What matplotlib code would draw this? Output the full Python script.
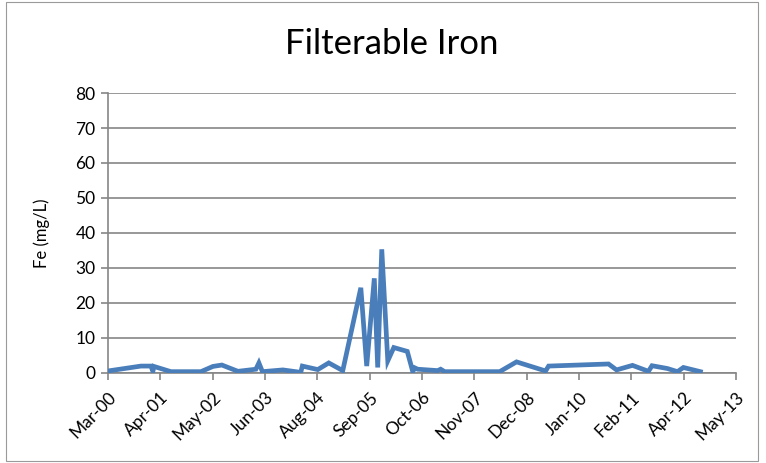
import matplotlib
matplotlib.use("Agg")
import matplotlib.pyplot as plt
import matplotlib.dates as mdates
import pandas as pd
from matplotlib.patches import Rectangle

# sample dates and filterable iron results (mg/L)
dates = [
    "2000-03-16", "2000-11-23", "2001-02-07", "2001-02-22", "2001-03-02",
    "2001-07-10", "2002-02-24", "2002-05-27", "2002-08-03", "2002-12-04",
    "2003-04-20", "2003-05-13", "2003-06-09", "2003-11-12", "2004-03-28",
    "2004-04-09", "2004-08-05", "2004-10-28", "2005-02-12", "2005-06-30",
    "2005-08-14", "2005-10-11", "2005-11-06", "2005-12-07", "2006-01-22",
    "2006-03-09", "2006-06-20", "2006-08-01", "2006-08-16", "2006-09-08",
    "2007-02-07", "2007-03-02", "2007-04-02", "2008-05-26", "2008-10-02",
    "2009-05-12", "2009-06-04", "2010-09-05", "2010-11-05", "2011-03-07",
    "2011-07-07", "2011-08-03", "2011-11-29", "2012-02-14", "2012-03-30",
    "2012-08-07",
]
fe = [
    0.5, 1.9, 1.9, 0.4, 1.8,
    0.3, 0.3, 1.8, 2.2, 0.4,
    1.0, 2.8, 0.3, 0.8, 0.1,
    1.9, 0.9, 2.8, 0.6, 24.3,
    1.9, 27.0, 1.5, 35.3, 3.4,
    7.2, 6.1, 0.3, 1.4, 1.0,
    0.6, 1.0, 0.3, 0.3, 3.1,
    0.5, 1.9, 2.5, 0.8, 2.1,
    0.4, 2.0, 1.2, 0.3, 1.5,
    0.3,
]
y_ticks = list(range(0, 81, 10))

font = "Lato"
grey = "#868686"

df = pd.DataFrame({"date": pd.to_datetime(dates), "fe": fe})

fig = plt.figure(figsize=(7.66, 4.63), dpi=100)
ax = fig.add_axes([0.141, 0.195, 0.820, 0.604])

ax.plot(df["date"], df["fe"], color="#4A7EBB", linewidth=3.4,
        solid_joinstyle="miter", zorder=3)

# date axis with a 400-day major unit
start = mdates.date2num(pd.Timestamp("2000-03-16"))
x_ticks = [start + 400 * k for k in range(13)]
ax.set_xlim(x_ticks[0], x_ticks[-1])
ax.set_xticks(x_ticks)
ax.set_xticklabels([mdates.num2date(t).strftime("%b-%y") for t in x_ticks],
                   rotation=45, ha="right", va="top", rotation_mode="anchor",
                   fontsize=12.5, family=font)

ax.set_ylim(0, 80)
ax.set_yticks(y_ticks)
ax.set_yticklabels([str(v) for v in y_ticks], fontsize=12.5, family=font)
ax.yaxis.grid(True, color=grey, linewidth=1.2)
ax.set_axisbelow(True)

for side in ("top", "right"):
    ax.spines[side].set_visible(False)
for side in ("left", "bottom"):
    ax.spines[side].set_color(grey)
    ax.spines[side].set_linewidth(1.2)
ax.tick_params(axis="both", direction="out", length=5, width=1.2, color=grey,
               pad=4)
ax.tick_params(axis="x", pad=7)

ax.set_ylabel("Fe (mg/L)", fontsize=12, family=font, labelpad=18)
fig.text(0.512, 0.905, "Filterable Iron", ha="center", va="center",
         fontsize=25, family=font)

# outer chart border
fig.patches.append(Rectangle((0.008, 0.004), 0.982, 0.992,
                             transform=fig.transFigure, fill=False,
                             edgecolor="#9A9A9A", linewidth=0.8))

fig.savefig("out.png", dpi=100)
